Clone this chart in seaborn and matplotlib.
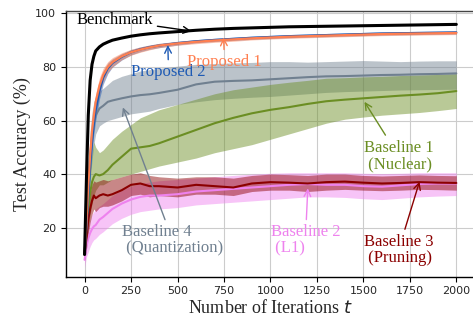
import matplotlib
matplotlib.use("Agg")
import matplotlib.pyplot as plt
import seaborn as sns

# iteration grid shared by all series
ITERS = [0, 10, 20, 30, 40, 50, 60, 80, 100, 125, 150, 200, 250, 300, 350, 400,
         500, 600, 700, 800, 900, 1000, 1100, 1200, 1300, 1400, 1500, 1600, 1700,
         1800, 1900, 2000]

BENCH = [10, 38, 62, 75, 81, 84, 86, 87.5, 88.5, 89.3, 90, 90.8, 91.5, 92, 92.4, 92.7,
         93.2, 93.7, 94.1, 94.4, 94.6, 94.8, 95, 95.1, 95.2, 95.3, 95.4, 95.5, 95.6,
         95.7, 95.8, 95.9]

PROP1 = [10, 22, 36, 47, 56, 62, 67, 73, 77, 80, 81.8, 84, 85.5, 86.5, 87.3, 88,
         88.8, 89.4, 89.9, 90.3, 90.7, 91, 91.3, 91.5, 91.7, 91.9, 92.1, 92.3, 92.4,
         92.5, 92.6, 92.7]
PROP1_HI = [12, 26, 40, 51, 60, 66, 70, 76, 79.5, 82, 83.5, 85.3, 86.6, 87.5, 88.2, 88.8,
            89.5, 90.1, 90.6, 91, 91.3, 91.6, 91.9, 92.1, 92.3, 92.5, 92.7, 92.9, 93,
            93.1, 93.2, 93.3]
PROP1_LO = [8, 18, 32, 43, 52, 58, 64, 70, 74.5, 78, 80, 82.7, 84.4, 85.5, 86.4, 87.2,
            88.1, 88.7, 89.2, 89.6, 90.1, 90.4, 90.7, 90.9, 91.1, 91.3, 91.5, 91.7, 91.8,
            91.9, 92, 92.1]

PROP2 = [10, 20, 32, 43, 52, 59, 64, 71, 76, 79.5, 81.5, 83.8, 85.5, 86.6, 87.4, 88,
         88.9, 89.6, 90.1, 90.5, 90.9, 91.2, 91.5, 91.7, 91.9, 92.1, 92.3, 92.5, 92.6,
         92.7, 92.8, 92.9]
PROP2_HI = [12, 24, 36, 47, 56, 63, 68, 74, 78.5, 81.5, 83, 85, 86.5, 87.5, 88.2, 88.8,
            89.6, 90.2, 90.7, 91.1, 91.5, 91.8, 92.1, 92.3, 92.5, 92.7, 92.9, 93.1, 93.2,
            93.3, 93.4, 93.5]
PROP2_LO = [8, 16, 28, 39, 48, 55, 60, 68, 73.5, 77.5, 80, 82.6, 84.5, 85.7, 86.6, 87.2,
            88.2, 89, 89.5, 89.9, 90.3, 90.6, 90.9, 91.1, 91.3, 91.5, 91.7, 91.9, 92,
            92.1, 92.2, 92.3]

# Baseline 1 (Nuclear)
NUC = [10, 18, 26, 33, 37, 39, 40, 39.5, 40, 41.5, 43.5, 46.5, 49.5, 50, 50.5, 51.5,
       54, 56.5, 59, 61, 62.7, 64, 65, 66.2, 67.2, 67.8, 68.3, 68.8, 69.3, 69.7, 70.2, 71]
NUC_HI = [12, 22, 32, 42, 48, 52, 50, 48, 49, 51, 53, 56, 58.5, 61, 62.5, 64,
          66, 68, 70, 71.5, 72.5, 73.5, 74.3, 75, 75.8, 76, 76.3, 76.5, 76.8, 77, 77.2, 77.5]
NUC_LO = [8, 13, 19, 25, 29, 32, 34, 36, 36, 37, 38, 39, 40, 41, 42, 43,
          44.5, 46, 48, 49.5, 51, 53, 55, 57, 59, 60.5, 61.3, 62, 62.5, 63, 63.7, 64.5]

# Baseline 2 (L1)
L1 = [8, 13, 16, 18, 19.5, 20.5, 21, 23, 24, 25.5, 27, 29, 30.5, 31.5, 32, 32,
      32.5, 33.5, 34, 34.5, 35, 35.5, 36, 36.3, 36, 36, 35.5, 35.3, 35.8, 36.3, 36.5, 36.5]
L1_HI = [11, 17, 21, 23, 25, 26, 27, 28, 29, 30.5, 32, 34, 35.5, 36.5, 37, 37.5,
         38, 38.5, 39, 39.5, 40, 40.3, 40.5, 40.5, 40.5, 40.5, 40.3, 40.2, 40.3, 40.5, 40.5, 40.5]
L1_LO = [5, 9, 11, 13, 14.5, 15.5, 16, 17.5, 18.5, 20, 21.5, 23.5, 25, 26, 26.5, 27,
         27.5, 28.5, 29, 29.5, 30, 30.5, 31, 31.5, 31.5, 31.3, 30.8, 30.5, 31, 31.5, 31.8, 32]

# Baseline 3 (Pruning)
PRUNE = [10, 16, 23, 27, 30, 32, 31, 32, 32.5, 32, 32.5, 34, 36, 36.5, 35.5, 35.5,
         35, 36, 35.5, 35, 36.5, 37, 36.8, 36.5, 37, 37.2, 36.8, 36.5, 36.7, 37, 36.8, 36.7]
PRUNE_HI = [12, 20, 28, 33, 36, 37.5, 37, 37.5, 38, 37.5, 38, 39, 40, 40.5, 39.5, 39,
            38.5, 39, 39, 38.5, 39.5, 40, 39.8, 39.5, 40, 40, 39.5, 39.3, 39.5, 39.7, 39.5, 39.4]
PRUNE_LO = [8, 12, 18, 22, 25, 27, 26, 27.5, 28, 28, 28.5, 30, 32, 32.5, 31.5, 32,
            31.5, 32.5, 32.5, 32, 33.5, 34, 34, 33.5, 34, 34.3, 34, 33.8, 34, 34.3, 34.2, 34]

# Baseline 4 (Quantization)
QUANT = [10, 22, 36, 47, 54, 59, 62, 64.5, 65.5, 67, 67.5, 68.3, 69, 69.5, 69.8, 70.3,
         71.5, 73.5, 74.5, 74.8, 75, 75.4, 75.8, 76.2, 76.5, 76.6, 76.8, 77, 77.1, 77.3, 77.4, 77.6]
QUANT_HI = [12, 28, 44, 56, 63, 67, 69, 71, 72, 73.5, 75, 76.5, 77.5, 78.5, 79, 79.5,
            80.3, 81, 81.3, 81.5, 81.7, 82, 82, 81.8, 82, 82.2, 82.4, 82.2, 82, 82.2, 82.3, 82.3]
QUANT_LO = [8, 16, 28, 38, 45, 51, 55, 58, 59, 60, 60.5, 61.5, 62.5, 63, 63.5, 64.5,
            66, 67, 67.8, 68.3, 68.7, 69, 69.5, 70, 70.5, 70.8, 71, 71.2, 71.4, 71.5, 71.6, 71.7]

C_BENCH = "black"
C_PROP1 = "#FF7F50"
C_PROP2 = "#1E5AB4"
C_NUC = "#6B8E23"
C_L1 = "#EE82EE"
C_PRUNE = "#8B0000"
C_QUANT = "#708090"


def main():
    sns.set_style("whitegrid", {"grid.color": "#cccccc", "axes.edgecolor": "black"})
    plt.rcParams["font.family"] = ["DejaVu Sans"]
    plt.rcParams["mathtext.fontset"] = "dejavusans"

    fig = plt.figure(figsize=(4.73, 3.16), dpi=100)
    ax = fig.add_axes([0.1395, 0.1244, 0.8645, 0.8408])

    # bands first, lines on top
    bands = [
        (QUANT_LO, QUANT_HI, C_QUANT),
        (NUC_LO, NUC_HI, C_NUC),
        (L1_LO, L1_HI, C_L1),
        (PRUNE_LO, PRUNE_HI, C_PRUNE),
        (PROP2_LO, PROP2_HI, C_PROP2),
        (PROP1_LO, PROP1_HI, C_PROP1),
    ]
    for lo, hi, c in bands:
        ax.fill_between(ITERS, lo, hi, color=c, alpha=0.47, linewidth=0)

    series = [
        (QUANT, C_QUANT, 1.5),
        (NUC, C_NUC, 1.5),
        (L1, C_L1, 1.5),
        (PRUNE, C_PRUNE, 1.5),
        (PROP2, C_PROP2, 1.6),
        (PROP1, C_PROP1, 1.6),
        (BENCH, C_BENCH, 2.2),
    ]
    for y, c, lw in series:
        sns.lineplot(x=ITERS, y=y, color=c, linewidth=lw, ax=ax)

    serif = ["Liberation Serif", "DejaVu Serif"]
    fs = 12
    notes = [
        ("Benchmark", (574, 93.4), (161, 97.5), C_BENCH),
        ("Proposed 2", (448, 88.2), (452, 78.0), C_PROP2),
        ("Proposed 1", (748, 91.0), (753, 81.8), C_PROP1),
        ("Baseline 4\n (Quantization)", (206, 64.9), (475, 15.2), C_QUANT),
        ("Baseline 1\n (Nuclear)", (1506, 67.0), (1689, 46.8), C_NUC),
        ("Baseline 2\n (L1)", (1201, 34.7), (1188, 15.2), C_L1),
        ("Baseline 3\n (Pruning)", (1802, 37.2), (1689, 11.6), C_PRUNE),
    ]
    for txt, xy, xytext, c in notes:
        ax.annotate(txt, xy=xy, xytext=xytext, color=c, fontsize=fs, family=serif,
                    ha="center", va="center", multialignment="left", linespacing=1.05,
                    arrowprops=dict(arrowstyle="->", color=c, lw=1.0,
                                    shrinkA=1, shrinkB=0))

    ax.set_xlim(-100, 2100)
    ax.set_ylim(1.7, 100.9)
    ax.set_xticks([0, 250, 500, 750, 1000, 1250, 1500, 1750, 2000])
    ax.set_yticks([20, 40, 60, 80, 100])
    ax.tick_params(axis="both", labelsize=8, length=3.5, width=0.8, color="black",
                   bottom=True, left=True)
    ax.set_xlabel("Number of Iterations $t$", fontsize=13, family=serif, labelpad=2)
    ax.set_ylabel("Test Accuracy (%)", fontsize=13, family=serif, labelpad=3)
    for s in ax.spines.values():
        s.set_color("black")
        s.set_linewidth(1.0)
    ax.spines["top"].set_color("#444444")
    ax.spines["right"].set_visible(False)

    fig.savefig("out.png", dpi=100)
    plt.close(fig)


if __name__ == "__main__":
    main()
